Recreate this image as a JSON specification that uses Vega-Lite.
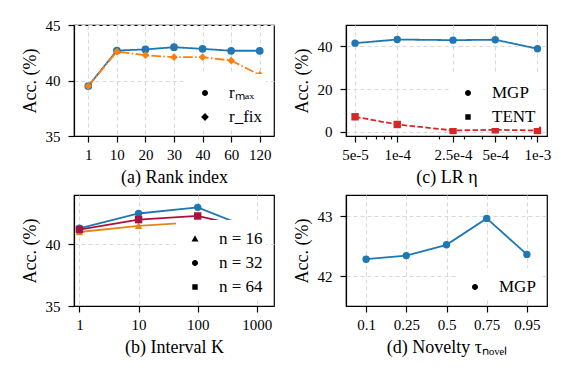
{
  "$schema": "https://vega.github.io/schema/vega-lite/v6.json",
  "background": "white",
  "padding": {"left": 20, "top": 17, "right": 10, "bottom": 5},
  "config": {
    "view": {"stroke": "black", "strokeWidth": 1.2},
    "font": "Liberation Serif",
    "axis": {
      "labelFont": "Liberation Serif", "labelFontSize": 15, "labelColor": "black",
      "titleFont": "Liberation Serif", "titleFontSize": 18, "titleFontWeight": "normal", "titleColor": "black",
      "domainColor": "black", "domainWidth": 1.2, "tickColor": "black", "tickWidth": 1.2, "tickSize": 6,
      "gridColor": "#d9d9d9", "gridDash": [4, 3], "gridWidth": 1
    },
    "axisX": {"titlePadding": 6, "labelAngle": 0, "labelPadding": 5},
    "axisY": {"titlePadding": 6, "labelPadding": 8},
    "legend": {
      "labelFont": "Liberation Serif", "labelFontSize": 17, "labelColor": "black",
      "symbolSize": 900, "symbolStrokeWidth": 1.8, "fillColor": "white",
      "padding": 3, "rowPadding": -10, "labelOffset": 8, "offset": 8, "title": null
    }
  },
  "spacing": 7,
  "resolve": {"scale": {"color": "independent", "stroke": "independent", "shape": "independent", "strokeDash": "independent"}, "legend": {"color": "independent", "stroke": "independent", "shape": "independent", "strokeDash": "independent"}},
  "vconcat": [
    {
      "spacing": 17,
      "resolve": {"scale": {"color": "independent", "stroke": "independent", "shape": "independent", "strokeDash": "independent"}, "legend": {"color": "independent", "stroke": "independent", "shape": "independent", "strokeDash": "independent"}},
      "hconcat": [
        {
          "width": 200, "height": 111,
          "data": {"values": [
            {"rank": 1, "series": "rₘₐₓ", "acc": 39.5},
            {"rank": 10, "series": "rₘₐₓ", "acc": 42.7},
            {"rank": 20, "series": "rₘₐₓ", "acc": 42.8},
            {"rank": 30, "series": "rₘₐₓ", "acc": 43.0},
            {"rank": 40, "series": "rₘₐₓ", "acc": 42.85},
            {"rank": 60, "series": "rₘₐₓ", "acc": 42.68},
            {"rank": 120, "series": "rₘₐₓ", "acc": 42.68},
            {"rank": 1, "series": "r_fix", "acc": 39.5},
            {"rank": 10, "series": "r_fix", "acc": 42.6},
            {"rank": 20, "series": "r_fix", "acc": 42.28},
            {"rank": 30, "series": "r_fix", "acc": 42.1},
            {"rank": 40, "series": "r_fix", "acc": 42.1},
            {"rank": 60, "series": "r_fix", "acc": 41.8},
            {"rank": 120, "series": "r_fix", "acc": 40.5}
          ]},
          "encoding": {
            "x": {"field": "rank", "type": "ordinal", "scale": {"type": "point", "padding": 0.5}, "axis": {"title": "(a) Rank index", "grid": true}},
            "y": {"field": "acc", "type": "quantitative", "scale": {"domain": [35, 45], "nice": false, "zero": false}, "axis": {"title": "Acc. (%)", "values": [35, 40, 45], "grid": true}}
          },
          "layer": [
            {
              "mark": {"type": "line", "strokeWidth": 1.8},
              "encoding": {
                "color": {"field": "series", "type": "nominal", "scale": {"domain": ["rₘₐₓ", "r_fix"], "range": ["#1f77b4", "#ff7f0e"]}, "legend": null},
                "strokeDash": {"field": "series", "type": "nominal", "scale": {"domain": ["rₘₐₓ", "r_fix"], "range": [[1, 0], [9.6, 2.4, 1.5, 2.4]]}, "legend": null}
              }
            },
            {
              "mark": {"type": "point", "filled": true, "opacity": 1, "size": 60},
              "encoding": {
                "color": {"field": "series", "type": "nominal", "scale": {"domain": ["rₘₐₓ", "r_fix"], "range": ["#1f77b4", "#ff7f0e"]}, "legend": null},
                "shape": {"field": "series", "type": "nominal", "scale": {"domain": ["rₘₐₓ", "r_fix"], "range": ["circle", "diamond"]}, "legend": null}
              }
            },
            {
              "transform": [{"filter": "false"}],
              "mark": {"type": "point", "filled": true, "opacity": 1},
              "encoding": {
                "color": {"field": "series", "type": "nominal", "scale": {"domain": ["rₘₐₓ", "r_fix"], "range": ["#1f77b4", "#ff7f0e"]}, "legend": {"orient": "bottom-right"}},
                "stroke": {"field": "series", "type": "nominal", "scale": {"domain": ["rₘₐₓ", "r_fix"], "range": ["#1f77b4", "#ff7f0e"]}, "legend": {"orient": "bottom-right"}},
                "shape": {"field": "series", "type": "nominal", "scale": {"domain": ["rₘₐₓ", "r_fix"], "range": [
                  "M-1,0L1,0M0.2,0A0.2,0.2,0,1,1,-0.2,0A0.2,0.2,0,1,1,0.2,0Z",
                  "M-1,0L-0.38,0M-0.22,0L-0.12,0M0.04,0L0.66,0M0.82,0L0.92,0M0,-0.26L0.26,0L0,0.26L-0.26,0Z"
                ]}, "legend": {"orient": "bottom-right"}}
              }
            }
          ],
          "resolve": {"scale": {"shape": "independent"}}
        },
        {
          "width": 201, "height": 111,
          "data": {"values": [
            {"lr": 0.00005, "series": "MGP", "acc": 41.5},
            {"lr": 0.0001, "series": "MGP", "acc": 43.2},
            {"lr": 0.00025, "series": "MGP", "acc": 42.9},
            {"lr": 0.0005, "series": "MGP", "acc": 43.1},
            {"lr": 0.001, "series": "MGP", "acc": 38.9},
            {"lr": 0.00005, "series": "TENT", "acc": 7.0},
            {"lr": 0.0001, "series": "TENT", "acc": 3.4},
            {"lr": 0.00025, "series": "TENT", "acc": 0.6},
            {"lr": 0.0005, "series": "TENT", "acc": 0.9},
            {"lr": 0.001, "series": "TENT", "acc": 0.6}
          ]},
          "encoding": {
            "x": {"field": "lr", "type": "quantitative", "scale": {"type": "log", "domain": [0.0000431, 0.00117], "nice": false},
              "axis": {"title": "(c) LR η", "grid": true,
                "values": [0.00005, 0.00006, 0.00007, 0.00008, 0.00009, 0.0001, 0.0002, 0.00025, 0.0003, 0.0004, 0.0005, 0.0006, 0.0007, 0.0008, 0.0009, 0.001],
                "labelExpr": "datum.value == 0.00005 ? '5e-5' : datum.value == 0.0001 ? '1e-4' : datum.value == 0.00025 ? '2.5e-4' : datum.value == 0.0005 ? '5e-4' : datum.value == 0.001 ? '1e-3' : ''",
                "tickSize": {"condition": {"test": "indexof([0.00005, 0.0001, 0.00025, 0.0005, 0.001], datum.value) >= 0", "value": 6}, "value": 3},
                "gridOpacity": {"condition": {"test": "indexof([0.00005, 0.0001, 0.00025, 0.0005, 0.001], datum.value) >= 0", "value": 1}, "value": 0}
              }},
            "y": {"field": "acc", "type": "quantitative", "scale": {"domain": [-2, 50], "nice": false, "zero": false}, "axis": {"title": "Acc. (%)", "values": [0, 20, 40], "grid": true}}
          },
          "layer": [
            {
              "mark": {"type": "line", "strokeWidth": 1.8},
              "encoding": {
                "color": {"field": "series", "type": "nominal", "scale": {"domain": ["MGP", "TENT"], "range": ["#1f77b4", "#d62728"]}, "legend": null},
                "strokeDash": {"field": "series", "type": "nominal", "scale": {"domain": ["MGP", "TENT"], "range": [[1, 0], [5.5, 2.4]]}, "legend": null}
              }
            },
            {
              "mark": {"type": "point", "filled": true, "opacity": 1, "size": 55},
              "encoding": {
                "color": {"field": "series", "type": "nominal", "scale": {"domain": ["MGP", "TENT"], "range": ["#1f77b4", "#d62728"]}, "legend": null},
                "shape": {"field": "series", "type": "nominal", "scale": {"domain": ["MGP", "TENT"], "range": ["circle", "square"]}, "legend": null}
              }
            },
            {
              "transform": [{"filter": "false"}],
              "mark": {"type": "point", "filled": true, "opacity": 1},
              "encoding": {
                "color": {"field": "series", "type": "nominal", "scale": {"domain": ["MGP", "TENT"], "range": ["#1f77b4", "#d62728"]}, "legend": {"orient": "bottom-right"}},
                "stroke": {"field": "series", "type": "nominal", "scale": {"domain": ["MGP", "TENT"], "range": ["#1f77b4", "#d62728"]}, "legend": {"orient": "bottom-right"}},
                "shape": {"field": "series", "type": "nominal", "scale": {"domain": ["MGP", "TENT"], "range": [
                  "M-1,0L1,0M0.2,0A0.2,0.2,0,1,1,-0.2,0A0.2,0.2,0,1,1,0.2,0Z",
                  "M-1,0L-0.63,0M-0.47,0L-0.1,0M0.1,0L0.47,0M0.63,0L1,0M-0.18,-0.18L0.18,-0.18L0.18,0.18L-0.18,0.18Z"
                ]}, "legend": {"orient": "bottom-right"}}
              }
            }
          ],
          "resolve": {"scale": {"shape": "independent"}}
        }
      ]
    },
    {
      "spacing": 17,
      "resolve": {"scale": {"color": "independent", "stroke": "independent", "shape": "independent", "strokeDash": "independent"}, "legend": {"color": "independent", "stroke": "independent", "shape": "independent", "strokeDash": "independent"}},
      "hconcat": [
        {
          "width": 200, "height": 111,
          "data": {"values": [
            {"k": 1, "series": "n = 16", "acc": 41.0},
            {"k": 10, "series": "n = 16", "acc": 41.5},
            {"k": 100, "series": "n = 16", "acc": 41.8},
            {"k": 1000, "series": "n = 16", "acc": 41.3},
            {"k": 1, "series": "n = 32", "acc": 41.3},
            {"k": 10, "series": "n = 32", "acc": 42.5},
            {"k": 100, "series": "n = 32", "acc": 43.0},
            {"k": 1000, "series": "n = 32", "acc": 41.1},
            {"k": 1, "series": "n = 64", "acc": 41.2},
            {"k": 10, "series": "n = 64", "acc": 42.0},
            {"k": 100, "series": "n = 64", "acc": 42.3},
            {"k": 1000, "series": "n = 64", "acc": 41.2}
          ]},
          "encoding": {
            "x": {"field": "k", "type": "quantitative", "scale": {"type": "log", "domain": [0.81, 1950], "nice": false}, "axis": {"title": "(b) Interval K", "values": [1, 10, 100, 1000], "format": "d", "grid": true}},
            "y": {"field": "acc", "type": "quantitative", "scale": {"domain": [35, 44], "nice": false, "zero": false}, "axis": {"title": "Acc. (%)", "values": [35, 40], "grid": true}}
          },
          "layer": [
            {
              "mark": {"type": "line", "strokeWidth": 1.8},
              "encoding": {
                "color": {"field": "series", "type": "nominal", "scale": {"domain": ["n = 16", "n = 32", "n = 64"], "range": ["#e0861a", "#1f77b4", "#a8123e"]}, "legend": null}
              }
            },
            {
              "mark": {"type": "point", "filled": true, "opacity": 1, "size": 55},
              "encoding": {
                "color": {"field": "series", "type": "nominal", "scale": {"domain": ["n = 16", "n = 32", "n = 64"], "range": ["#e0861a", "#1f77b4", "#a8123e"]}, "legend": null},
                "shape": {"field": "series", "type": "nominal", "scale": {"domain": ["n = 16", "n = 32", "n = 64"], "range": ["triangle-up", "circle", "square"]}, "legend": null}
              }
            },
            {
              "transform": [{"filter": "false"}],
              "mark": {"type": "point", "filled": true, "opacity": 1},
              "encoding": {
                "color": {"field": "series", "type": "nominal", "scale": {"domain": ["n = 16", "n = 32", "n = 64"], "range": ["#e0861a", "#1f77b4", "#a8123e"]}, "legend": {"orient": "bottom-right"}},
                "stroke": {"field": "series", "type": "nominal", "scale": {"domain": ["n = 16", "n = 32", "n = 64"], "range": ["#e0861a", "#1f77b4", "#a8123e"]}, "legend": {"orient": "bottom-right"}},
                "shape": {"field": "series", "type": "nominal", "scale": {"domain": ["n = 16", "n = 32", "n = 64"], "range": [
                  "M-1,0L1,0M0,-0.25L0.23,0.16L-0.23,0.16Z",
                  "M-1,0L1,0M0.2,0A0.2,0.2,0,1,1,-0.2,0A0.2,0.2,0,1,1,0.2,0Z",
                  "M-1,0L1,0M-0.18,-0.18L0.18,-0.18L0.18,0.18L-0.18,0.18Z"
                ]}, "legend": {"orient": "bottom-right"}}
              }
            }
          ],
          "resolve": {"scale": {"shape": "independent"}}
        },
        {
          "width": 201, "height": 111,
          "data": {"values": [
            {"tau": 0.1, "series": "MGP", "acc": 42.28},
            {"tau": 0.25, "series": "MGP", "acc": 42.34},
            {"tau": 0.5, "series": "MGP", "acc": 42.52},
            {"tau": 0.75, "series": "MGP", "acc": 42.96},
            {"tau": 0.95, "series": "MGP", "acc": 42.36}
          ]},
          "encoding": {
            "x": {"field": "tau", "type": "ordinal", "scale": {"type": "point", "padding": 0.5}, "axis": {"title": "(d) Novelty τₙₒᵥₑₗ", "grid": true}},
            "y": {"field": "acc", "type": "quantitative", "scale": {"domain": [41.5, 43.35], "nice": false, "zero": false}, "axis": {"title": "Acc. (%)", "values": [42, 43], "grid": true}}
          },
          "layer": [
            {
              "mark": {"type": "line", "strokeWidth": 1.8},
              "encoding": {
                "color": {"field": "series", "type": "nominal", "scale": {"domain": ["MGP"], "range": ["#1f77b4"]}, "legend": null}
              }
            },
            {
              "mark": {"type": "point", "filled": true, "opacity": 1, "size": 55},
              "encoding": {
                "color": {"field": "series", "type": "nominal", "scale": {"domain": ["MGP"], "range": ["#1f77b4"]}, "legend": null}
              }
            },
            {
              "transform": [{"filter": "false"}],
              "mark": {"type": "point", "filled": true, "opacity": 1},
              "encoding": {
                "color": {"field": "series", "type": "nominal", "scale": {"domain": ["MGP"], "range": ["#1f77b4"]}, "legend": {"orient": "bottom-right"}},
                "stroke": {"field": "series", "type": "nominal", "scale": {"domain": ["MGP"], "range": ["#1f77b4"]}, "legend": {"orient": "bottom-right"}},
                "shape": {"field": "series", "type": "nominal", "scale": {"domain": ["MGP"], "range": [
                  "M-1,0L1,0M0.2,0A0.2,0.2,0,1,1,-0.2,0A0.2,0.2,0,1,1,0.2,0Z"
                ]}, "legend": {"orient": "bottom-right"}}
              }
            }
          ],
          "resolve": {"scale": {"shape": "independent"}}
        }
      ]
    }
  ]
}
